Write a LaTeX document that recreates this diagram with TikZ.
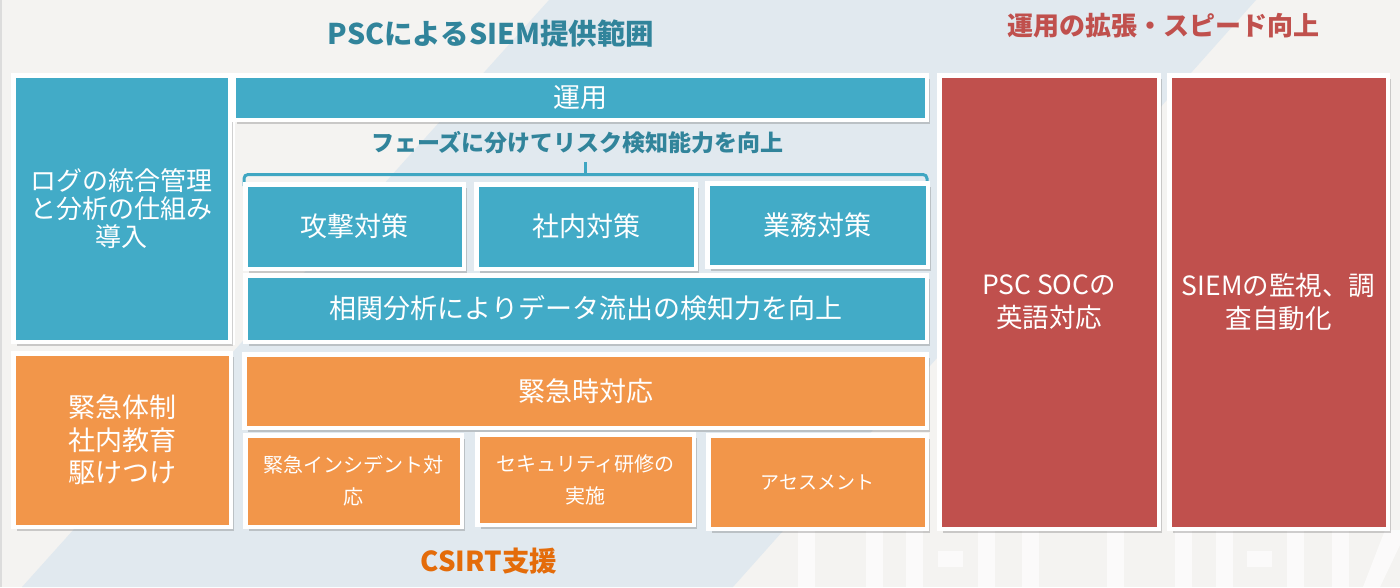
\documentclass[tikz,border=0pt]{standalone}
\usepackage{fontspec}
\setmainfont{Noto Sans CJK JP}
\usetikzlibrary{shadows}
\definecolor{bg}{HTML}{F4F3F1}
\definecolor{band}{HTML}{E1E9EF}
\definecolor{aqua}{HTML}{42ABC7}
\definecolor{orng}{HTML}{F2964A}
\definecolor{redb}{HTML}{C0504D}
\definecolor{tealt}{HTML}{31849B}
\definecolor{bracketc}{HTML}{3FA6C2}
\definecolor{oranget}{HTML}{E46C0A}
\definecolor{edgeg}{HTML}{DCDCDC}
\tikzset{
  box/.style={draw=white, line width=4.5pt, text=white, align=center,
    inner sep=0pt, outer sep=0pt,
    drop shadow={shadow xshift=3.5pt, shadow yshift=-4pt, opacity=0.3, fill=black!60},
    font=\fontsize{27}{29}\selectfont},
  bluebox/.style={box, fill=aqua},
  orangebox/.style={box, fill=orng},
  redbox/.style={box, fill=redb},
  smalltext/.style={font=\fontsize{20}{32}\selectfont},
  ttl/.style={inner sep=0pt, font=\bfseries\fontsize{28.5}{30}\selectfont},
  wm/.style={fill=white, opacity=0.65},
}
\begin{document}
\begin{tikzpicture}[x=1pt,y=-1pt]
\useasboundingbox (0,0) rectangle (1400,587);
% background
\fill[bg] (0,0) rectangle (1400,587);
\fill[band] (549,0) -- (1256,0) -- (733,587) -- (22,587) -- cycle;
\draw[edgeg, line width=1.5pt] (0.75,0) -- (0.75,587);
% faint watermark shapes
\foreach \a/\b in {798/815, 866/883, 906/923, 978/995, 1022/1039, 1107/1124, 1175/1192, 1216/1233, 1287/1304, 1332/1349}
  \fill[wm] (\a,530) rectangle (\b,587);
\fill[wm] (938,551) rectangle (963,567);
\fill[wm] (1247,551) rectangle (1272,567);
\fill[wm] (1363,587) -- (1385,530) -- (1400,530) -- (1400,545) -- (1380,587) -- cycle;
% titles
\node[ttl, text=tealt] (t1) at (491,33.5) {PSCによるSIEM提供範囲};
\node[ttl, text=redb, font=\bfseries\fontsize{26}{30}\selectfont] (t2) at (1163,25.5) {運用の拡張・スピード向上};
\node[ttl, text=oranget, font=\bfseries\fontsize{27.5}{30}\selectfont] (t3) at (489,561) {CSIRT支援};
% left frame strip
\draw[white, line width=4.5pt] (233,118) -- (233,345);
% SIEM group
\node[bluebox, minimum width=216.5pt, minimum height=266.5pt, font=\fontsize{26}{28}\selectfont] (log) at (121.5,208.5) {ログの統合管理\\と分析の仕組み\\導入};
\node[bluebox, minimum width=693.5pt, minimum height=44.5pt] (unyo) at (580,97.5) {運用};
\node[inner sep=0pt, text=tealt, font=\bfseries\fontsize{23}{26}\selectfont] (phase) at (577.5,143) {フェーズに分けてリスク検知能力を向上};
% bracket
\coordinate (bl) at (244,186);
\coordinate (br) at (927,186);
\coordinate (bt) at (585.5,162);
\draw[bracketc, line width=3pt, rounded corners=4pt] (bl) -- (244,174.5) -- (927,174.5) -- (br);
\draw[bracketc, line width=3pt] (bt) -- (585.5,174.5);
\node[bluebox, minimum width=218.5pt, minimum height=84.5pt] (kougeki) at (354.5,226.5) {攻撃対策};
\node[bluebox, minimum width=219.5pt, minimum height=84.5pt] (shanai) at (586,226.5) {社内対策};
\node[bluebox, minimum width=220.5pt, minimum height=83.5pt] (gyomu) at (817.5,225) {業務対策};
\node[bluebox, minimum width=681.5pt, minimum height=66.5pt] (soukan) at (586,308.5) {相関分析によりデータ流出の検知力を向上};
% CSIRT group
\node[orangebox, minimum width=217.5pt, minimum height=173.5pt, font=\fontsize{27}{32.5}\selectfont] (leftor) at (122,440) {緊急体制\\社内教育\\駆けつけ};
\node[orangebox, minimum width=682.5pt, minimum height=73.5pt] (kinkyu) at (585.5,391) {緊急時対応};
\node[orangebox, smalltext, minimum width=216.5pt, minimum height=91.5pt] (incident) at (353.5,481) {緊急インシデント対\\応};
\node[orangebox, smalltext, minimum width=216.5pt, minimum height=90.5pt] (seminar) at (585.5,479.5) {セキュリティ研修の\\実施};
\node[orangebox, minimum width=218.5pt, minimum height=93.5pt, font=\fontsize{19}{22}\selectfont] (assess) at (817.5,482) {アセスメント};
% expansion
\node[redbox, minimum width=219.5pt, minimum height=453.5pt, font=\fontsize{26.5}{33}\selectfont] (soc) at (1049,302) {PSC SOCの\\英語対応};
\node[redbox, minimum width=218.5pt, minimum height=453.5pt, font=\fontsize{26.5}{33}\selectfont] (auto) at (1278.5,302) {SIEMの監視、調\\査自動化};
\end{tikzpicture}
\end{document}
